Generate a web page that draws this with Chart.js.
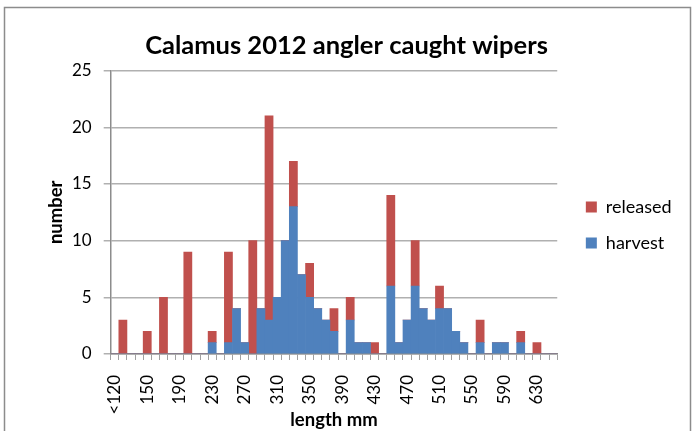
<!DOCTYPE html>
<html>
<head>
<meta charset="utf-8">
<script src="https://cdn.jsdelivr.net/npm/chart.js@4.4.1/dist/chart.umd.min.js"></script>
<style>
  html, body { margin: 0; padding: 0; background: #fff; }
  #wrap { position: relative; width: 699px; height: 431px; }
  canvas { display: block; }
</style>
</head>
<body>
<div id="wrap"><canvas id="c" width="699" height="431"></canvas></div>
<script>
// Category labels: "<120", then 120, 130, ... 650 (10 mm bins)
const lengthBins = ["<120"];
for (let v = 120; v <= 650; v += 10) lengthBins.push(String(v));

const harvest = [0,0,0,0,0,0,0,0,0,0,0,0,1,0,1,4,1,0,4,3,5,10,13,7,5,4,3,2,0,3,1,1,0,0,6,1,3,6,4,3,4,4,2,1,0,1,0,1,1,0,1,0,0,0,0];
const released = [0,3,0,0,2,0,5,0,0,9,0,0,1,0,8,0,0,10,0,18,0,0,4,0,3,0,0,2,0,2,0,0,1,0,8,0,0,4,0,0,2,0,0,0,0,2,0,0,0,0,1,0,1,0,0];
const yTicks = [0, 5, 10, 15, 20, 25];

const frame = {
  id: 'frame',
  beforeDraw(chart) {
    const ctx = chart.ctx;
    ctx.save();
    ctx.fillStyle = '#fff';
    ctx.fillRect(0, 0, chart.width, chart.height);
    ctx.strokeStyle = '#8c8c8c';
    ctx.lineWidth = 1.5;
    ctx.strokeRect(4.5, 7.5, 686, 440);
    ctx.restore();
  }
};

// nudge the legend block to where the reference places it
const legendNudge = {
  id: 'legendNudge',
  afterLayout(chart) {
    const lg = chart.legend;
    if (!lg) return;
    const dx = 10.6, dy = 4.4;
    lg.left += dx; lg.right += dx;
    lg.top += dy; lg.bottom += dy;
  }
};

const FONT = "Lato, 'Open Sans', sans-serif";

new Chart(document.getElementById('c'), {
  type: 'bar',
  data: {
    labels: lengthBins,
    datasets: [
      { label: 'harvest', data: harvest, backgroundColor: '#4F81BD', borderWidth: 0, stack: 's',
        barPercentage: 1, categoryPercentage: 1 },
      { label: 'released', data: released, backgroundColor: '#C0504D', borderWidth: 0, stack: 's',
        barPercentage: 1, categoryPercentage: 1 }
    ]
  },
  options: {
    responsive: false,
    animation: false,
    layout: { padding: { top: 10, left: 22, right: 28, bottom: 0 } },
    plugins: {
      title: {
        display: true,
        text: 'Calamus 2012 angler caught wipers',
        color: '#000',
        font: { family: FONT, size: 25.5, weight: 'bold' },
        padding: { top: 20, bottom: 10 }
      },
      legend: {
        position: 'right',
        reverse: true,
        labels: {
          color: '#000',
          font: { family: FONT, size: 18 },
          boxWidth: 11,
          boxHeight: 11,
          padding: 18
        }
      },
      tooltip: { enabled: false }
    },
    scales: {
      x: {
        stacked: true,
        afterFit(axis) { axis.height = 77; },
        grid: {
          display: true,
          offset: true,
          drawOnChartArea: false,
          drawTicks: true,
          tickLength: 6,
          color: '#a0a0a0',
          lineWidth: 1
        },
        border: { display: true, color: '#8c8c8c', width: 1.5 },
        ticks: {
          autoSkip: false,
          maxRotation: 90,
          minRotation: 90,
          color: '#000',
          font: { family: FONT, size: 17 },
          padding: 15,
          callback: function(v, i) { return i % 4 === 0 ? this.getLabelForValue(v) : ''; }
        },
        title: {
          display: true,
          text: 'length mm',
          color: '#000',
          font: { family: FONT, size: 18.5, weight: 'bold' },
          padding: { top: 0, bottom: 0 }
        }
      },
      y: {
        stacked: true,
        min: 0,
        max: 25,
        afterFit(axis) { axis.width = 88.7; },
        afterBuildTicks(axis) { axis.ticks = yTicks.map(v => ({ value: v })); },
        grid: {
          color: '#b0b0b0',
          lineWidth: 1.5,
          tickLength: 7
        },
        border: { display: true, color: '#8c8c8c', width: 1.5 },
        ticks: {
          color: '#000',
          font: { family: FONT, size: 17 },
          padding: 12
        },
        title: {
          display: true,
          text: 'number',
          color: '#000',
          font: { family: FONT, size: 18.5, weight: 'bold' },
          padding: { top: 23, bottom: 0 }
        }
      }
    }
  },
  plugins: [frame, legendNudge]
});
</script>
</body>
</html>
